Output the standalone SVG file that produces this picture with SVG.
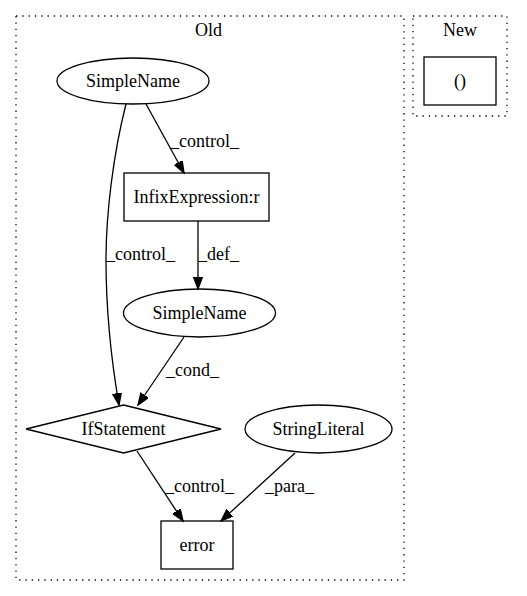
<svg xmlns="http://www.w3.org/2000/svg" width="527" height="596" viewBox="0 0 527 596" font-family="'Liberation Serif','Times New Roman',serif">
<style>
text{font-family:"Liberation Serif","Times New Roman",serif;font-size:18px;fill:#000;text-anchor:middle}
.cl{fill:none;stroke:#000;stroke-width:1.3;stroke-dasharray:1.3,5}
.n{fill:none;stroke:#000;stroke-width:1.3}
.e{fill:none;stroke:#000;stroke-width:1.3;marker-end:url(#ah)}
.lbl{text-anchor:start}
</style>
<defs>
<marker id="ah" markerUnits="userSpaceOnUse" markerWidth="14" markerHeight="11" refX="12" refY="4.5" orient="auto" viewBox="0 0 14 11">
<path d="M0,0 L12,4.5 L0,9 z" fill="#000" stroke="#000" stroke-width="1.3"/>
</marker>
</defs>
<rect width="527" height="596" fill="#fff"/>
<g id="cluster_old">
<rect class="cl" x="16" y="16" width="388" height="564"/>
<text x="208.5" y="36">Old</text>
</g>
<g id="cluster_new">
<rect class="cl" x="413" y="16" width="94" height="100"/>
<text x="460" y="36">New</text>
</g>
<g id="connectors">
<line class="e" x1="146" y1="104" x2="184" y2="173"/>
<text class="lbl" x="170" y="147">_control_</text>
<path class="e" d="M126,104 C113,155 106,215 106,260 C106,320 113,370 119,405"/>
<text class="lbl" x="106" y="260">_control_</text>
<line class="e" x1="198" y1="221" x2="198" y2="289"/>
<text class="lbl" x="198" y="260">_def_</text>
<line class="e" x1="184" y1="337" x2="138" y2="405"/>
<text class="lbl" x="166" y="376">_cond_</text>
<line class="e" x1="137" y1="451" x2="183" y2="521"/>
<text class="lbl" x="165" y="492">_control_</text>
<line class="e" x1="295" y1="453" x2="221" y2="521"/>
<text class="lbl" x="265" y="492">_para_</text>
</g>
<g id="node_new_paren">
<rect class="n" x="424" y="57" width="72" height="48"/>
<text x="460" y="87">()</text>
</g>
<g id="node_simplename1">
<ellipse class="n" cx="133" cy="81" rx="76" ry="23"/>
<text x="133" y="87">SimpleName</text>
</g>
<g id="node_infix">
<rect class="n" x="124" y="173" width="145" height="48"/>
<text x="196.5" y="203">InfixExpression:r</text>
</g>
<g id="node_simplename2">
<ellipse class="n" cx="199.5" cy="313" rx="76" ry="24"/>
<text x="199.5" y="319">SimpleName</text>
</g>
<g id="node_if">
<polygon class="n" points="123.5,405 221,429 123.5,453 26,429"/>
<text x="123.5" y="435">IfStatement</text>
</g>
<g id="node_stringliteral">
<ellipse class="n" cx="318.5" cy="429" rx="73.5" ry="24"/>
<text x="318.5" y="435">StringLiteral</text>
</g>
<g id="node_error">
<rect class="n" x="161" y="521" width="72" height="48"/>
<text x="197" y="551">error</text>
</g>
</svg>
